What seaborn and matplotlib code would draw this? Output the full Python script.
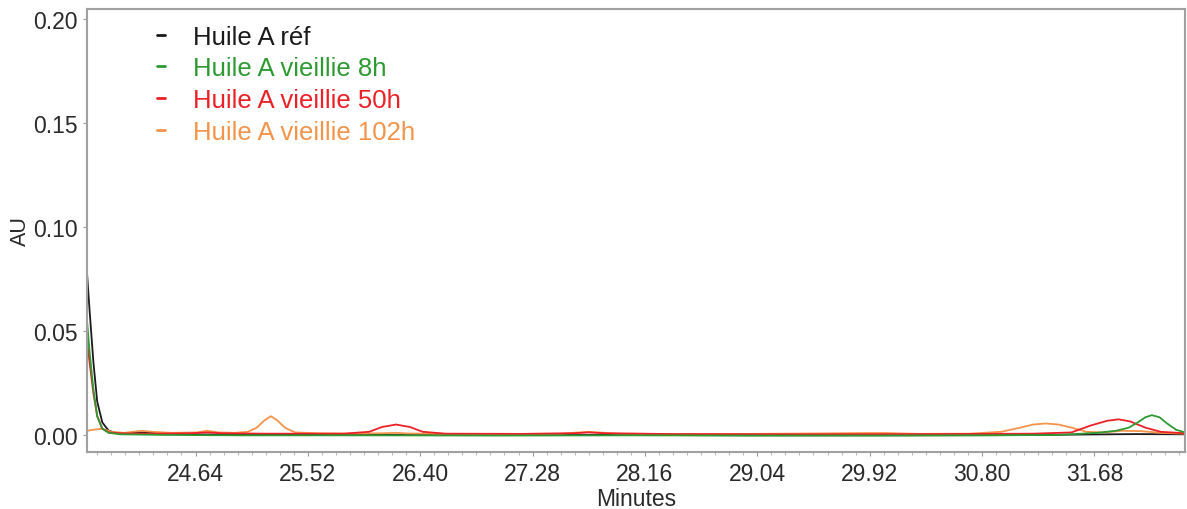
import matplotlib
matplotlib.use("Agg")
import matplotlib.pyplot as plt
from matplotlib.ticker import MultipleLocator
import seaborn as sns

# chromatogram traces (minutes, AU)
t_ref = [23.79, 23.81, 23.84, 23.87, 23.91, 23.96, 24.03, 24.15, 24.25, 24.40, 24.70,
         25.20, 26.00, 27.00, 28.00, 29.00, 30.00, 31.00, 31.60, 32.00, 32.39]
au_ref = [0.078, 0.060, 0.035, 0.016, 0.006, 0.002, 0.0008, 0.001, 0.0012, 0.0006, 0.0002,
          0.0001, 0.0, -0.0001, 0.0, -0.0002, -0.0002, -0.0001, 0.0002, 0.0004, 0.0003]

t_8h = [23.79, 23.81, 23.84, 23.87, 23.91, 23.96, 24.05, 24.40, 25.00, 26.00, 27.00, 28.00, 29.00,
        30.00, 30.80, 31.40, 31.70, 31.85, 31.95, 32.02, 32.08, 32.13, 32.19, 32.25, 32.32, 32.39]
au_8h = [0.055, 0.040, 0.022, 0.009, 0.003, 0.001, 0.0003, 0.0, -0.0002, -0.0002, -0.0003, -0.0002,
         -0.0003, -0.0003, -0.0002, 0.0, 0.001, 0.002, 0.0035, 0.006, 0.0085, 0.0095, 0.0085, 0.0055,
         0.0025, 0.0012]

t_50h = [23.79, 23.81, 23.84, 23.87, 23.91, 23.96, 24.05, 24.30, 24.60, 24.73, 24.85, 25.20,
         25.80, 26.00, 26.10, 26.21, 26.32, 26.42, 26.60, 27.20, 27.60, 27.72, 27.85, 28.40,
         29.40, 30.40, 31.20, 31.50, 31.65, 31.78, 31.87, 31.96, 32.08, 32.20, 32.39]
au_50h = [0.045, 0.035, 0.020, 0.009, 0.003, 0.0012, 0.0008, 0.0006, 0.0008, 0.0012, 0.0008, 0.0006,
          0.0006, 0.0015, 0.0038, 0.005, 0.0038, 0.0015, 0.0006, 0.0005, 0.0008, 0.0012, 0.0008, 0.0004,
          0.0003, 0.0004, 0.0006, 0.0012, 0.0045, 0.0068, 0.0075, 0.0065, 0.0035, 0.0015, 0.0008]

t_102h = [23.79, 23.84, 23.91, 23.98, 24.08, 24.15, 24.22, 24.30, 24.45, 24.65, 24.73, 24.82,
          24.95, 25.05, 25.12, 25.18, 25.23, 25.28, 25.34, 25.42, 25.60, 25.90, 26.10, 26.21,
          26.30, 26.60, 27.00, 27.50, 27.62, 27.72, 27.82, 27.95, 28.40, 29.00, 29.50, 29.90,
          30.05, 30.30, 30.70, 30.95, 31.10, 31.20, 31.30, 31.40, 31.50, 31.62, 31.75, 31.90,
          32.05, 32.20, 32.39]
au_102h = [0.002, 0.0025, 0.003, 0.0015, 0.001, 0.0015, 0.002, 0.0015, 0.001, 0.0012, 0.002, 0.0012,
           0.001, 0.0015, 0.0035, 0.007, 0.009, 0.007, 0.0035, 0.0012, 0.0008, 0.0006, 0.0008, 0.001,
           0.0007, 0.0005, 0.0004, 0.0006, 0.0011, 0.0015, 0.0011, 0.0006, 0.0004, 0.0005, 0.0007, 0.0009,
           0.0009, 0.0005, 0.0006, 0.0015, 0.0035, 0.005, 0.0055, 0.005, 0.0035, 0.0015, 0.0012, 0.002,
           0.0018, 0.001, 0.0006]

labels = ["Huile A réf", "Huile A vieillie 8h", "Huile A vieillie 50h", "Huile A vieillie 102h"]
colors = ["#1a1a1a", "#2e9a32", "#ec2027", "#f4934a"]

x_ticks = [24.64, 25.52, 26.40, 27.28, 28.16, 29.04, 29.92, 30.80, 31.68]
y_ticks = [0.00, 0.05, 0.10, 0.15, 0.20]

sns.set_theme(style="white")
plt.rcParams["font.family"] = ["Liberation Sans", "DejaVu Sans"]

fig = plt.figure(figsize=(11.87, 5.10), dpi=100)
ax = fig.add_axes([0.0733, 0.1118, 0.9250, 0.8686])

series = [(t_ref, au_ref), (t_8h, au_8h), (t_50h, au_50h), (t_102h, au_102h)]
order = [0, 3, 2, 1]
for i in order:
    t, au = series[i]
    sns.lineplot(x=t, y=au, ax=ax, color=colors[i], linewidth=1.3,
                 label=labels[i], sort=False, estimator=None)

ax.set_xlim(23.79, 32.39)
ax.set_ylim(-0.0082, 0.2048)
ax.set_xticks(x_ticks)
ax.set_xticklabels([f"{v:.2f}" for v in x_ticks])
ax.xaxis.set_minor_locator(MultipleLocator(0.11))
ax.set_yticks(y_ticks)
ax.set_yticklabels([f"{v:.2f}" for v in y_ticks])

ax.tick_params(axis="both", which="major", labelsize=16.5, colors="#999999",
               labelcolor="#2a2a2a", length=3, width=0.8, direction="out",
               bottom=True, left=True, pad=4)
ax.tick_params(axis="x", which="minor", colors="#aaaaaa", length=2, width=0.6, bottom=True)

for side in ["left", "top", "right", "bottom"]:
    ax.spines[side].set_color("#a0a0a0")
    ax.spines[side].set_linewidth(1.5)

ax.set_xlabel("Minutes", fontsize=16.5, color="#2a2a2a", labelpad=2)
ax.set_ylabel("AU", fontsize=15.5, color="#2a2a2a", labelpad=1)

handles, labs = ax.get_legend_handles_labels()
by_label = dict(zip(labs, handles))
leg = ax.legend([by_label[l] for l in labels], labels, loc="upper left",
                bbox_to_anchor=(0.0636, 0.965), frameon=False, fontsize=18.5,
                handlelength=0.32, handletextpad=1.1, labelspacing=0.3,
                borderpad=0, borderaxespad=0)
for txt, c in zip(leg.get_texts(), colors):
    txt.set_color(c)
for line in leg.get_lines():
    line.set_linewidth(2)

fig.savefig("out.png", dpi=100)
